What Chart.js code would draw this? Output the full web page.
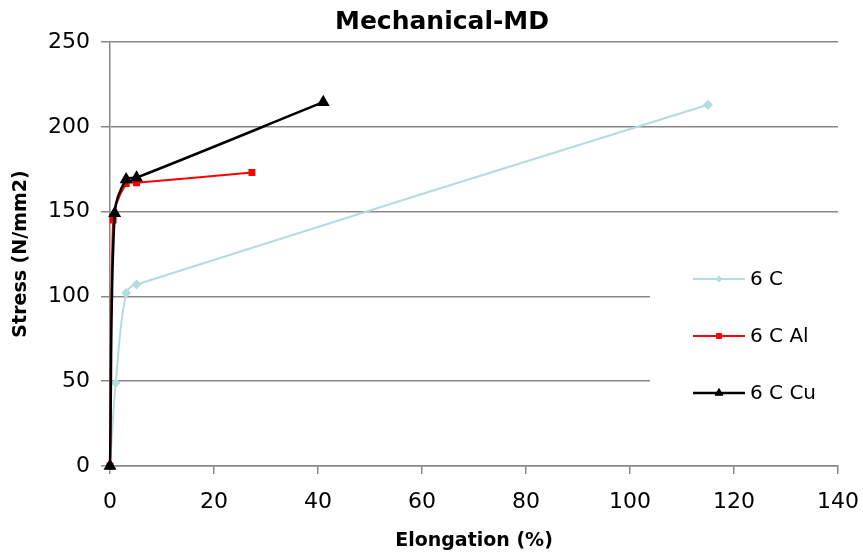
<!DOCTYPE html>
<html>
<head>
<meta charset="utf-8">
<script src="https://cdn.jsdelivr.net/npm/chart.js@4/dist/chart.umd.min.js"></script>
<style>
  body{margin:0;background:#fff;}
  canvas{display:block;}
</style>
</head>
<body>
<canvas id="chart" width="863" height="557"></canvas>
<script>
// values
const seriesNames = ["6 C", "6 C Al", "6 C Cu"];
const elongC   = [0, 1.1, 3.1, 5.1, 115];
const stressC  = [0, 49, 102, 107, 213];
const elongAl  = [0, 0.6, 3.1, 5.1, 27.3];
const stressAl = [0, 145, 166.5, 167, 173];
const elongCu  = [0, 0.9, 3.1, 5.1, 41];
const stressCu = [0, 149, 169, 170, 214.5];
const xTicks = [0, 20, 40, 60, 80, 100, 120, 140];
const yTicks = [0, 50, 100, 150, 200, 250];
const chartTitle = "Mechanical-MD";

const colC = "#b2dde0", colAl = "#ff0000", colCu = "#000000";
const gridCol = "#888888";

const pts = (xs, ys) => xs.map((x, i) => ({x: x, y: ys[i]}));

Chart.defaults.font.family = "'DejaVu Sans'";
Chart.defaults.color = "#000";

// title is centred on the whole picture, legend sits inside the plot on a white patch
const decor = {
    id: "decor",
    beforeDatasetsDraw(chart){
        const ctx = chart.ctx, a = chart.chartArea;
        ctx.save();
        ctx.fillStyle = "#fff";
        ctx.fillRect(650, 225, a.right - 650 + 2, 230);
        ctx.restore();
    },
    afterDraw(chart){
        const ctx = chart.ctx;
        ctx.save();
        ctx.fillStyle = "#000";
        ctx.font = "bold 25px 'DejaVu Sans'";
        ctx.textAlign = "center";
        ctx.textBaseline = "middle";
        ctx.fillText(chartTitle, 442, 22);

        const rows = [279, 336, 393];
        const legendRadius = [3, 3.5, 4.5];
        chart.data.datasets.forEach((ds, i) => {
            const y = rows[i];
            ctx.strokeStyle = ds.borderColor;
            ctx.lineWidth = ds.borderWidth;
            ctx.beginPath();
            ctx.moveTo(693, y);
            ctx.lineTo(745, y);
            ctx.stroke();
            ctx.fillStyle = ds.borderColor;
            ctx.lineWidth = 1;
            Chart.helpers.drawPoint(ctx, {
                pointStyle: ds.pointStyle,
                radius: legendRadius[i],
                rotation: 0,
                borderWidth: 1
            }, 719, y);
            ctx.fillStyle = "#000";
            ctx.font = "20px 'DejaVu Sans'";
            ctx.textBaseline = "middle";
            ctx.textAlign = "left";
            ctx.fillText(ds.label, 750, y + 1);
        });
        ctx.restore();
    }
};

function series(name, xs, ys, color, style, radius, width, order){
    return {
        label: name,
        data: pts(xs, ys),
        borderColor: color,
        backgroundColor: color,
        pointBackgroundColor: color,
        pointBorderColor: color,
        pointStyle: style,
        pointRadius: radius,
        borderWidth: width,
        showLine: true,
        tension: 0.35,
        clip: false,
        order: order
    };
}

new Chart(document.getElementById("chart"), {
    type: "scatter",
    data: {
        datasets: [
            series(seriesNames[0], elongC, stressC, colC, "rectRot", 3.5, 2, 3),
            series(seriesNames[1], elongAl, stressAl, colAl, "rect", 3.5, 2, 2),
            series(seriesNames[2], elongCu, stressCu, colCu, "triangle", 5, 2.5, 1)
        ]
    },
    options: {
        responsive: false,
        animation: false,
        layout: {padding: {left: 0, right: 25, top: 42, bottom: 0}},
        plugins: {
            legend: {display: false},
            tooltip: {enabled: false},
            title: {display: false}
        },
        scales: {
            x: {
                type: "linear",
                min: 0, max: 140,
                afterBuildTicks: s => { s.ticks = xTicks.map(v => ({value: v})); },
                afterFit: s => { s.height = 91; s.paddingLeft = 0; s.paddingRight = 0; },
                ticks: {font: {size: 22}, padding: 15},
                grid: {drawOnChartArea: false, drawTicks: true, tickLength: 8, color: gridCol, lineWidth: 1.5},
                border: {color: gridCol, width: 1.5},
                title: {display: true, text: "Elongation (%)", font: {size: 19, weight: "bold"}, padding: {top: 0, bottom: 5}}
            },
            y: {
                type: "linear",
                min: 0, max: 250,
                afterBuildTicks: s => { s.ticks = yTicks.map(v => ({value: v})); },
                afterFit: s => { s.width = 110; s.paddingTop = 0; s.paddingBottom = 0; },
                ticks: {font: {size: 22}, padding: 11},
                grid: {drawTicks: true, tickLength: 9, color: gridCol, lineWidth: 1.5},
                border: {color: gridCol, width: 1.5},
                title: {display: true, text: "Stress (N/mm2)", font: {size: 19, weight: "bold"}, padding: {top: 10, bottom: 0}}
            }
        }
    },
    plugins: [decor]
});
</script>
</body>
</html>
